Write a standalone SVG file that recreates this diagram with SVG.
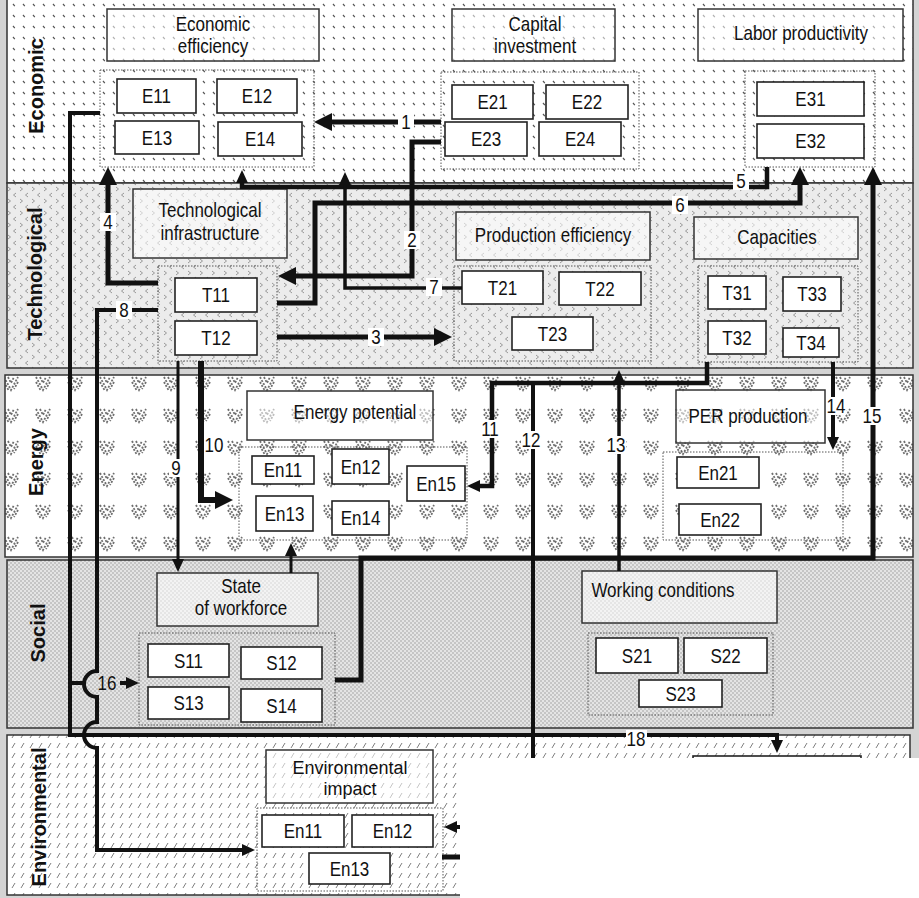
<svg xmlns="http://www.w3.org/2000/svg" width="919" height="898" viewBox="0 0 919 898">
<style>
.b{stroke:#333;stroke-width:1.5}
.hb{fill:#fff;fill-opacity:.55;stroke:#333;stroke-width:1.5}
.n{fill:#fff;stroke:#222;stroke-width:1.6}
.c{fill:none;stroke:#555;stroke-width:1;stroke-dasharray:1.5 1.5}
.k{fill:none;stroke:#111;stroke-width:5}
.m{stroke-width:3.5}
.lb{fill:#fff}
.t{font-family:"Liberation Sans",Arial,sans-serif;font-size:20px;text-anchor:middle;fill:#111;transform-box:fill-box;transform-origin:center;transform:scaleX(.85)}
.bl{font-family:"Liberation Sans",Arial,sans-serif;font-size:20px;font-weight:bold;text-anchor:middle;fill:#111}
</style>
<defs>
<pattern id="pE" width="10" height="11" patternUnits="userSpaceOnUse"><rect width="10" height="11" fill="#fff"/><path d="M3,4 l1.8,2.2" stroke="#555" stroke-width="1.2"/></pattern>
<pattern id="pT" width="12" height="12" patternUnits="userSpaceOnUse"><rect width="12" height="12" fill="#ececec"/><path d="M4,1 L1.5,3 L4,5 M8,7 L10.5,9 L8,11" stroke="#8f8f8f" fill="none" stroke-width=".9"/></pattern>
<pattern id="pN" x="0" y="368" width="32" height="32" patternUnits="userSpaceOnUse"><rect width="32" height="32" fill="#fff"/><path d="M4,9 L11,22 L18,9 M8,9 L11,15 L14,9 M4,14 L9,23 M18,14 L14,21" stroke="#6e6e6e" fill="none" stroke-width="1.8" stroke-dasharray="2 1.5"/></pattern>
<pattern id="pS" width="4" height="4" patternUnits="userSpaceOnUse"><rect width="4" height="4" fill="#e4e4e4"/><circle cx="1" cy="1" r=".7" fill="#8f8f8f"/><circle cx="3" cy="3" r=".7" fill="#8f8f8f"/></pattern>
<pattern id="pV" width="9" height="10" patternUnits="userSpaceOnUse"><rect width="9" height="10" fill="#fff"/><path d="M3,8 L6,3" stroke="#808080" stroke-width="1"/></pattern>
<marker id="aB" markerUnits="userSpaceOnUse" markerWidth="18" markerHeight="18" refX="8" refY="9" orient="auto"><path d="M0,0 L18,9 L0,18 z" fill="#111"/></marker>
<marker id="aS" markerUnits="userSpaceOnUse" markerWidth="13" markerHeight="12" refX="5" refY="6" orient="auto"><path d="M0,0 L13,6 L0,12 z" fill="#111"/></marker>
</defs>
<rect width="919" height="898" fill="#d4d4d4"/>
<g id="bands">
<rect class="b" x="7" y="-1" width="906" height="184" fill="url(#pE)"/>
<rect class="b" x="7" y="183" width="906" height="185" fill="url(#pT)"/>
<rect class="b" x="5" y="375" width="908" height="182" fill="url(#pN)"/>
<rect class="b" x="7" y="560" width="906" height="168" fill="url(#pS)"/>
<rect class="b" x="7" y="735" width="903" height="160" fill="url(#pV)"/>
<text class="bl" x="43" y="86" transform="rotate(-90 43 86)">Economic</text>
<text class="bl" x="42" y="274" transform="rotate(-90 42 274)">Technological</text>
<text class="bl" x="43" y="462" transform="rotate(-90 43 462)">Energy</text>
<text class="bl" x="45" y="633" transform="rotate(-90 45 633)">Social</text>
<text class="bl" x="46" y="817" transform="rotate(-90 46 817)">Environmental</text>
</g>
<g id="econ-eff"><rect class="hb" x="107" y="9" width="212" height="52"/><text class="t" x="213" y="31">Economic</text><text class="t" x="213" y="53">efficiency</text>
<rect class="c" x="100" y="70" width="214" height="97"/>
<rect class="n" x="117" y="79" width="79" height="34"/><text class="t" x="156.5" y="103">E11</text>
<rect class="n" x="217" y="79" width="80" height="34"/><text class="t" x="257" y="103">E12</text>
<rect class="n" x="115" y="121" width="84" height="33"/><text class="t" x="157" y="145">E13</text>
<rect class="n" x="218" y="122" width="84" height="34"/><text class="t" x="260" y="146">E14</text></g>
<g id="capital"><rect class="hb" x="452" y="9" width="163" height="52"/><text class="t" x="535" y="31">Capital</text><text class="t" x="535" y="53">investment</text>
<rect class="c" x="441" y="72" width="198" height="97"/>
<rect class="n" x="452" y="85" width="81" height="34"/><text class="t" x="492.5" y="109">E21</text>
<rect class="n" x="546" y="85" width="82" height="34"/><text class="t" x="587" y="109">E22</text>
<rect class="n" x="445" y="122" width="82" height="34"/><text class="t" x="486" y="146">E23</text>
<rect class="n" x="539" y="122" width="82" height="34"/><text class="t" x="580" y="146">E24</text></g>
<g id="labor"><rect class="hb" x="698" y="9" width="205" height="52"/><text class="t" x="801" y="40">Labor productivity</text>
<rect class="c" x="745" y="71" width="130" height="96"/>
<rect class="n" x="757" y="82" width="107" height="34"/><text class="t" x="810.5" y="106">E31</text>
<rect class="n" x="757" y="124" width="107" height="34"/><text class="t" x="810.5" y="148">E32</text></g>
<g id="tech-infra"><rect class="hb" x="133" y="189" width="154" height="69"/><text class="t" x="210" y="217">Technological</text><text class="t" x="210" y="240">infrastructure</text>
<rect class="c" x="158" y="266" width="119" height="95"/>
<rect class="n" x="175" y="278" width="82" height="34"/><text class="t" x="216" y="302">T11</text>
<rect class="n" x="175" y="321" width="82" height="34"/><text class="t" x="216" y="345">T12</text></g>
<g id="prod-eff"><rect class="hb" x="456" y="212" width="194" height="48"/><text class="t" x="553" y="242">Production efficiency</text>
<rect class="c" x="454" y="266" width="197" height="95"/>
<rect class="n" x="462" y="271" width="81" height="33"/><text class="t" x="502.5" y="295">T21</text>
<rect class="n" x="559" y="272" width="82" height="33"/><text class="t" x="600" y="296">T22</text>
<rect class="n" x="512" y="317" width="81" height="33"/><text class="t" x="552.5" y="341">T23</text></g>
<g id="capacities"><rect class="hb" x="694" y="217" width="164" height="42"/><text class="t" x="777" y="244">Capacities</text>
<rect class="c" x="698" y="266" width="160" height="96"/>
<rect class="n" x="708" y="276" width="58" height="33"/><text class="t" x="737" y="300">T31</text>
<rect class="n" x="783" y="277" width="58" height="34"/><text class="t" x="812" y="301">T33</text>
<rect class="n" x="708" y="321" width="58" height="33"/><text class="t" x="737" y="345">T32</text>
<rect class="n" x="783" y="328" width="56" height="29"/><text class="t" x="811" y="350">T34</text></g>
<g id="energy-pot"><rect class="hb" x="247" y="391" width="186" height="49"/><text class="t" x="355" y="419">Energy potential</text>
<rect class="c" x="239" y="447" width="228" height="93"/>
<rect class="n" x="252" y="456" width="62" height="28"/><text class="t" x="283" y="477">En11</text>
<rect class="n" x="332" y="449" width="57" height="35"/><text class="t" x="360.5" y="474">En12</text>
<rect class="n" x="256" y="496" width="57" height="35"/><text class="t" x="284.5" y="521">En13</text>
<rect class="n" x="332" y="501" width="57" height="34"/><text class="t" x="360.5" y="525">En14</text>
<rect class="n" x="407" y="466" width="58" height="35"/><text class="t" x="436" y="491">En15</text></g>
<g id="per"><rect class="hb" x="676" y="390" width="149" height="53"/><text class="t" x="748" y="423">PER production</text>
<rect class="c" x="663" y="452" width="180" height="88"/>
<rect class="n" x="677" y="457" width="82" height="31"/><text class="t" x="718" y="480">En21</text>
<rect class="n" x="679" y="504" width="82" height="31"/><text class="t" x="720" y="527">En22</text></g>
<g id="workforce"><rect class="hb" x="157" y="573" width="161" height="53"/><text class="t" x="241" y="593">State</text><text class="t" x="241" y="615">of workforce</text>
<rect class="c" x="139" y="633" width="196" height="92"/>
<rect class="n" x="148" y="644" width="81" height="33"/><text class="t" x="188.5" y="668">S11</text>
<rect class="n" x="241" y="647" width="81" height="32"/><text class="t" x="281.5" y="670">S12</text>
<rect class="n" x="148" y="687" width="81" height="32"/><text class="t" x="188.5" y="710">S13</text>
<rect class="n" x="241" y="689" width="81" height="33"/><text class="t" x="281.5" y="713">S14</text></g>
<g id="working"><rect class="hb" x="582" y="571" width="195" height="52"/><text class="t" x="663" y="597">Working conditions</text>
<rect class="c" x="588" y="633" width="185" height="82"/>
<rect class="n" x="596" y="638" width="82" height="35"/><text class="t" x="637" y="663">S21</text>
<rect class="n" x="684" y="638" width="83" height="35"/><text class="t" x="725.5" y="663">S22</text>
<rect class="n" x="639" y="680" width="83" height="27"/><text class="t" x="680.5" y="701">S23</text></g>
<g id="env-impact"><rect class="hb" x="266" y="750" width="167" height="53"/><text class="t" x="350" y="774" style="transform:none;font-size:18px">Environmental</text><text class="t" x="350" y="795" style="transform:none;font-size:18px">impact</text>
<rect class="c" x="257" y="808" width="186" height="83"/>
<rect class="n" x="262" y="815" width="82" height="32"/><text class="t" x="303" y="838">En11</text>
<rect class="n" x="352" y="815" width="81" height="32"/><text class="t" x="392.5" y="838">En12</text>
<rect class="n" x="309" y="853" width="81" height="31"/><text class="t" x="349.5" y="876">En13</text></g>
<g id="partial"><rect class="n" x="693" y="756" width="168" height="30"/></g>
<g id="connectors">
<path class="k" d="M441,122 H324" marker-end="url(#aB)"/>
<path class="k" d="M441,142 H412 V276 H288" marker-end="url(#aB)"/>
<path class="k" d="M277,337 H442" marker-end="url(#aB)"/>
<path class="k" d="M158,283 H108 V177" marker-end="url(#aB)"/>
<path class="k m" d="M767,167 V187 H242 V178" marker-end="url(#aS)" style="stroke-width:4.5"/>
<path class="k" d="M277,303 H315 V203 H800 V177" marker-end="url(#aB)"/>
<path class="k m" d="M462,288 H345 V180" marker-end="url(#aS)"/>
<path class="k m" d="M158,310 H97 V671 A13,13 0 0 0 97,697 V722 A13,13 0 0 0 97,748 V850 H247" marker-end="url(#aS)" style="stroke-width:4"/>
<path class="k m" d="M100,113 H70 V735 H777 V745" marker-end="url(#aS)" style="stroke-width:4"/>
<path class="k m" d="M70,683 H84" style="stroke-width:4"/>
<path class="k m" d="M120,683 H131" marker-end="url(#aS)" style="stroke-width:4"/>
<path class="k m" d="M178,361 V564" marker-end="url(#aS)" style="stroke-width:3"/>
<path class="k" d="M201,361 V500 H223" marker-end="url(#aB)" style="stroke-width:6"/>
<path class="k m" d="M291,573 V551" marker-end="url(#aS)" style="stroke-width:3"/>
<path class="k m" d="M707,362 V383 H492 V486 H475" marker-end="url(#aS)" style="stroke-width:4.5"/>
<path class="k m" d="M533,383 V758" style="stroke-width:4"/>
<path class="k m" d="M619,571 V378" marker-end="url(#aS)"/>
<path class="k m" d="M833,362 V442" marker-end="url(#aS)" style="stroke-width:4"/>
<path class="k" d="M335,680 H361 V558 H873 V177" marker-end="url(#aB)"/>
<path class="k m" d="M462,827 H452" marker-end="url(#aS)" style="stroke-width:4"/>
<path class="k" d="M442,857 H462"/>
</g>
<g id="labels">
<rect class="lb" x="398" y="113" width="16" height="18"/><text class="t" x="406" y="129">1</text>
<rect class="lb" x="404" y="231" width="16" height="18"/><text class="t" x="412" y="247">2</text>
<rect class="lb" x="368" y="328" width="16" height="18"/><text class="t" x="376" y="344">3</text>
<rect class="lb" x="100" y="213" width="16" height="18"/><text class="t" x="108" y="229">4</text>
<rect class="lb" x="733" y="172" width="16" height="18"/><text class="t" x="741" y="188">5</text>
<rect class="lb" x="672" y="196" width="16" height="18"/><text class="t" x="680" y="212">6</text>
<rect class="lb" x="426" y="278" width="16" height="18"/><text class="t" x="434" y="294">7</text>
<rect class="lb" x="116" y="301" width="16" height="18"/><text class="t" x="124" y="317">8</text>
<rect class="lb" x="169" y="459" width="14" height="18"/><text class="t" x="176" y="475">9</text>
<rect class="lb" x="204" y="436" width="19" height="18"/><text class="t" x="214" y="452">10</text>
<rect class="lb" x="481" y="420" width="19" height="18"/><text class="t" x="490" y="436">11</text>
<rect class="lb" x="521" y="431" width="20" height="18"/><text class="t" x="531" y="447">12</text>
<rect class="lb" x="606" y="436" width="20" height="18"/><text class="t" x="616" y="452">13</text>
<rect class="lb" x="826" y="397" width="20" height="18"/><text class="t" x="836" y="413">14</text>
<rect class="lb" x="862" y="407" width="21" height="18"/><text class="t" x="872" y="423">15</text>
<text class="t" x="107" y="690">16</text>
<rect class="lb" x="626" y="730" width="21" height="18"/><text class="t" x="636" y="746">18</text>
</g>
<rect x="460" y="758" width="459" height="140" fill="#fff"/>
</svg>
